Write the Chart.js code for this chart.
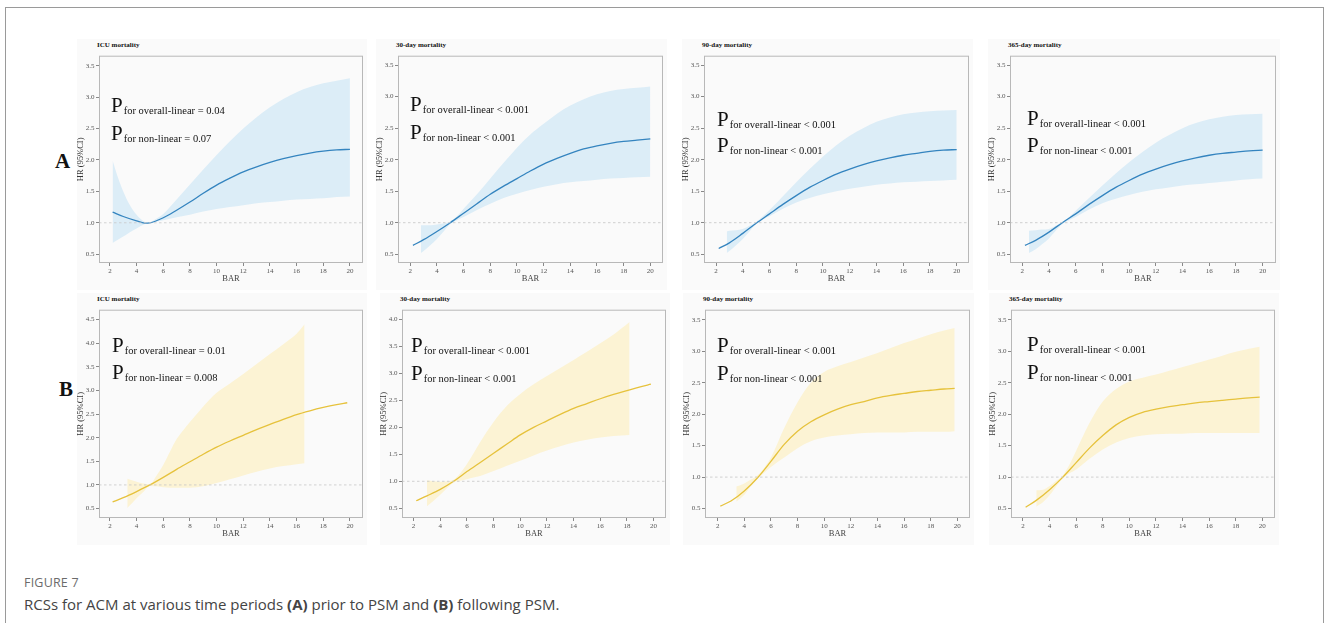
<!DOCTYPE html>
<html>
<head>
<meta charset="utf-8">
<script src="https://cdn.jsdelivr.net/npm/chart.js"></script>
<style>
  body { margin: 0; width: 1328px; height: 623px; position: relative; overflow: hidden; background: #fff; font-family: "Liberation Serif", serif; }
  #frame { position: absolute; left: 5px; top: 7px; width: 1317px; height: 640px; border: 1px solid #9a9a9a; }
  .bg { position: absolute; background: #fafafa; }
  .panel { position: absolute; }
  .ttl { position: absolute; font: bold 7px "Liberation Serif", serif; line-height: 8px; color: #111; white-space: nowrap; }
  .ann { position: absolute; font-size: 21px; line-height: 21px; color: #111; white-space: nowrap; }
  .ann span { font-size: 10.5px; position: relative; top: 2px; margin-left: 1px; }
  .lab { position: absolute; font: bold 21px "Liberation Serif", serif; line-height: 21px; color: #111; }
  #fig { position: absolute; left: 24px; top: 574px; font: 12.5px "Open Sans", sans-serif; color: #6b6b6b; letter-spacing: 0.2px; }
  #cap { position: absolute; left: 24px; top: 594px; font: 15px "Open Sans", sans-serif; color: #444; white-space: nowrap; }
</style>
</head>
<body>
<div id="frame"></div>
<div class="lab" style="left:55px;top:151px">A</div>
<div class="lab" style="left:59px;top:379px">B</div>
<div id="fig">FIGURE 7</div>
<div id="cap">RCSs for ACM at various time periods <b>(A)</b> prior to PSM and <b>(B)</b> following PSM.</div>
<script>
// x ticks (BAR) and y ticks (HR)
const barTicks = [2, 4, 6, 8, 10, 12, 14, 16, 18, 20];
const hrTicks35 = [0.5, 1.0, 1.5, 2.0, 2.5, 3.0, 3.5];
const hrTicks40 = [0.5, 1.0, 1.5, 2.0, 2.5, 3.0, 3.5, 4.0];
const hrTicks45 = [0.5, 1.0, 1.5, 2.0, 2.5, 3.0, 3.5, 4.0, 4.5];
const refHR = 1;

// A: prior to PSM
const icuPreX = [2.2, 3, 4, 4.6, 5, 6, 7, 8, 9, 10, 11, 12, 13, 14, 15, 16, 17, 18, 19, 20];
const icuPreHR = [1.17, 1.1, 1.03, 0.995, 1.0, 1.08, 1.2, 1.33, 1.47, 1.6, 1.71, 1.81, 1.89, 1.96, 2.02, 2.07, 2.11, 2.14, 2.16, 2.17];
const icuPreBandX = [2.2, 2.6, 3, 3.5, 4, 4.5, 4.9, 5.5, 6, 7, 8, 9, 10, 11, 12, 13, 14, 15, 16, 17, 18, 19, 20];
const icuPreLow = [0.68, 0.73, 0.78, 0.85, 0.91, 0.97, 1.0, 1.02, 1.04, 1.09, 1.13, 1.18, 1.22, 1.25, 1.28, 1.31, 1.33, 1.35, 1.37, 1.38, 1.39, 1.41, 1.42];
const icuPreHigh = [1.99, 1.72, 1.5, 1.28, 1.13, 1.03, 1.0, 1.07, 1.14, 1.37, 1.61, 1.85, 2.08, 2.3, 2.5, 2.68, 2.84, 2.97, 3.08, 3.16, 3.22, 3.26, 3.3];

const curveX = [2.2, 3, 4, 5, 6, 7, 8, 9, 10, 11, 12, 13, 14, 15, 16, 17, 18, 19, 20];
const bandX = [3, 3.5, 4, 4.5, 5, 5.5, 6, 7, 8, 9, 10, 11, 12, 13, 14, 15, 16, 17, 18, 19, 20];

const d30PreHR = [0.64, 0.73, 0.86, 1.0, 1.15, 1.3, 1.45, 1.58, 1.7, 1.82, 1.93, 2.02, 2.1, 2.17, 2.22, 2.26, 2.29, 2.31, 2.33];
const d30PreBandX = [2.8].concat(bandX);
const d30PreLow = [0.52, 0.55, 0.64, 0.74, 0.86, 0.98, 1.04, 1.09, 1.2, 1.3, 1.39, 1.46, 1.52, 1.57, 1.61, 1.64, 1.66, 1.68, 1.7, 1.71, 1.72, 1.73];
const d30PreHigh = [0.96, 0.96, 0.96, 0.97, 0.99, 1.02, 1.1, 1.22, 1.45, 1.7, 1.95, 2.19, 2.4, 2.57, 2.73, 2.86, 2.96, 3.04, 3.09, 3.12, 3.14, 3.16];

const d90PreHR = [0.59, 0.68, 0.83, 0.99, 1.14, 1.29, 1.43, 1.56, 1.67, 1.77, 1.85, 1.92, 1.98, 2.03, 2.07, 2.1, 2.13, 2.15, 2.16];
const d90PreBandX = [2.8].concat(bandX);
const d90PreLow = [0.52, 0.55, 0.64, 0.74, 0.86, 0.98, 1.05, 1.1, 1.22, 1.32, 1.39, 1.45, 1.5, 1.54, 1.57, 1.6, 1.62, 1.64, 1.65, 1.66, 1.67, 1.68];
const d90PreHigh = [0.86, 0.87, 0.88, 0.9, 0.95, 1.01, 1.1, 1.2, 1.42, 1.64, 1.85, 2.05, 2.23, 2.38, 2.5, 2.6, 2.67, 2.72, 2.75, 2.77, 2.78, 2.79];

const d365PreHR = [0.64, 0.72, 0.85, 1.0, 1.14, 1.29, 1.43, 1.56, 1.67, 1.77, 1.85, 1.92, 1.98, 2.03, 2.07, 2.1, 2.12, 2.14, 2.15];
const d365PreBandX = [2.5].concat(bandX);
const d365PreLow = [0.52, 0.58, 0.66, 0.75, 0.87, 0.98, 1.04, 1.09, 1.21, 1.31, 1.38, 1.44, 1.49, 1.53, 1.56, 1.59, 1.61, 1.63, 1.65, 1.67, 1.69, 1.7];
const d365PreHigh = [0.87, 0.88, 0.89, 0.9, 0.95, 1.01, 1.09, 1.19, 1.39, 1.59, 1.78, 1.96, 2.12, 2.27, 2.39, 2.5, 2.58, 2.64, 2.68, 2.71, 2.72, 2.73];

// B: following PSM
const curveXB = [2.2, 3, 4, 5, 6, 7, 8, 9, 10, 11, 12, 13, 14, 15, 16, 17, 18, 19, 19.8];

const icuPostHR = [0.64, 0.73, 0.86, 1.0, 1.16, 1.33, 1.49, 1.65, 1.8, 1.93, 2.05, 2.17, 2.28, 2.39, 2.49, 2.57, 2.64, 2.7, 2.74];
const icuPostBandX = [3.3, 4, 4.5, 5, 5.5, 6, 6.5, 7, 7.5, 8, 9, 10, 11, 12, 13, 14, 15, 16, 16.6];
const icuPostLow = [0.51, 0.72, 0.85, 0.98, 0.97, 0.95, 0.94, 0.94, 0.94, 0.94, 0.97, 1.04, 1.12, 1.2, 1.28, 1.35, 1.4, 1.44, 1.46];
const icuPostHigh = [1.13, 1.07, 1.03, 1.02, 1.2, 1.42, 1.7, 1.97, 2.16, 2.33, 2.66, 2.95, 3.15, 3.35, 3.56, 3.77, 3.98, 4.2, 4.4];

const d30PostHR = [0.64, 0.73, 0.85, 1.0, 1.18, 1.35, 1.52, 1.69, 1.86, 2.0, 2.12, 2.24, 2.35, 2.44, 2.53, 2.61, 2.68, 2.75, 2.8];
const d30PostBandX = [3, 3.5, 4, 4.5, 5, 5.5, 6, 6.5, 7, 8, 9, 10, 11, 12, 13, 14, 15, 16, 17, 18.2];
const d30PostLow = [0.54, 0.64, 0.75, 0.87, 0.98, 1.01, 1.04, 1.07, 1.1, 1.19, 1.29, 1.38, 1.48, 1.57, 1.65, 1.72, 1.77, 1.81, 1.84, 1.86];
const d30PostHigh = [1.02, 1.0, 0.99, 1.0, 1.03, 1.15, 1.32, 1.52, 1.73, 2.1, 2.4, 2.62, 2.8, 2.95, 3.1, 3.25, 3.4, 3.56, 3.72, 3.95];

const d90PostHR = [0.54, 0.62, 0.78, 0.99, 1.25, 1.52, 1.73, 1.88, 1.99, 2.08, 2.15, 2.2, 2.26, 2.3, 2.33, 2.36, 2.38, 2.4, 2.41];
const d90PostBandX = [3.4, 4, 4.5, 5, 5.5, 6, 7, 8, 9, 10, 11, 12, 13, 14, 15, 16, 17, 18, 19, 19.8];
const d90PostLow = [0.61, 0.72, 0.86, 0.98, 1.07, 1.16, 1.31, 1.46, 1.57, 1.63, 1.66, 1.68, 1.7, 1.71, 1.71, 1.71, 1.72, 1.72, 1.72, 1.73];
const d90PostHigh = [0.85, 0.9, 0.96, 1.03, 1.15, 1.31, 1.78, 2.19, 2.5, 2.67, 2.76, 2.83, 2.9, 2.97, 3.05, 3.13, 3.2, 3.27, 3.33, 3.37];

const d365PostHR = [0.52, 0.63, 0.8, 1.0, 1.23, 1.46, 1.66, 1.83, 1.95, 2.03, 2.08, 2.12, 2.15, 2.18, 2.2, 2.22, 2.24, 2.26, 2.27];
const d365PostBandX = [3, 3.5, 4, 4.5, 5, 5.5, 6, 7, 8, 9, 10, 11, 12, 13, 14, 15, 16, 17, 18, 19, 19.8];
const d365PostLow = [0.53, 0.6, 0.71, 0.85, 0.98, 1.06, 1.12, 1.29, 1.44, 1.55, 1.62, 1.66, 1.68, 1.69, 1.69, 1.7, 1.7, 1.7, 1.7, 1.7, 1.7];
const d365PostHigh = [0.79, 0.8, 0.86, 0.94, 1.03, 1.2, 1.42, 1.86, 2.2, 2.4, 2.52, 2.58, 2.63, 2.69, 2.75, 2.81, 2.87, 2.93, 2.99, 3.04, 3.07];

const blue = { line: '#3484bf', band: '#dcedf7' };
const yellow = { line: '#e6c23c', band: '#fcf3d4' };

// box = plot area [left, top, right, bottom] in page px; ann = [x, baseline1, baseline2]
const panels = [
  { title: 'ICU mortality', box: [99, 52, 363, 263], xr: [1.18, 20.98], yr: [0.36, 3.66], yt: hrTicks35, col: blue,
    cx: icuPreX, hr: icuPreHR, bx: icuPreBandX, lo: icuPreLow, hi: icuPreHigh,
    p1: 'for overall-linear = 0.04', p2: 'for non-linear = 0.07', ann: [111, 113, 141] },
  { title: '30-day mortality', box: [398, 52, 663, 263], xr: [1.08, 20.95], yr: [0.36, 3.65], yt: hrTicks35, col: blue,
    cx: curveX, hr: d30PreHR, bx: d30PreBandX, lo: d30PreLow, hi: d30PreHigh,
    p1: 'for overall-linear < 0.001', p2: 'for non-linear < 0.001', ann: [410, 112, 140] },
  { title: '90-day mortality', box: [704, 52, 969, 263], xr: [1.1, 20.92], yr: [0.36, 3.65], yt: hrTicks35, col: blue,
    cx: curveX, hr: d90PreHR, bx: d90PreBandX, lo: d90PreLow, hi: d90PreHigh,
    p1: 'for overall-linear < 0.001', p2: 'for non-linear < 0.001', ann: [717, 127, 153] },
  { title: '365-day mortality', box: [1010, 52, 1276, 263], xr: [1.08, 21.0], yr: [0.36, 3.65], yt: hrTicks35, col: blue,
    cx: curveX, hr: d365PreHR, bx: d365PreBandX, lo: d365PreLow, hi: d365PreHigh,
    p1: 'for overall-linear < 0.001', p2: 'for non-linear < 0.001', ann: [1027, 126, 153] },
  { title: 'ICU mortality', box: [99, 306, 363, 518], xr: [1.18, 20.98], yr: [0.3, 4.71], yt: hrTicks45, col: yellow,
    cx: curveXB, hr: icuPostHR, bx: icuPostBandX, lo: icuPostLow, hi: icuPostHigh,
    p1: 'for overall-linear = 0.01', p2: 'for non-linear = 0.008', ann: [112, 353, 380] },
  { title: '30-day mortality', box: [402, 306, 666, 518], xr: [1.13, 20.93], yr: [0.32, 4.18], yt: hrTicks40, col: yellow,
    cx: curveXB, hr: d30PostHR, bx: d30PostBandX, lo: d30PostLow, hi: d30PostHigh,
    p1: 'for overall-linear < 0.001', p2: 'for non-linear < 0.001', ann: [411, 353, 381] },
  { title: '90-day mortality', box: [705, 306, 970, 518], xr: [1.05, 20.95], yr: [0.35, 3.66], yt: hrTicks35, col: yellow,
    cx: curveXB, hr: d90PostHR, bx: d90PostBandX, lo: d90PostLow, hi: d90PostHigh,
    p1: 'for overall-linear < 0.001', p2: 'for non-linear < 0.001', ann: [717, 353, 381] },
  { title: '365-day mortality', box: [1011, 306, 1275, 518], xr: [1.1, 20.95], yr: [0.35, 3.66], yt: hrTicks35, col: yellow,
    cx: curveXB, hr: d365PostHR, bx: d365PostBandX, lo: d365PostLow, hi: d365PostHigh,
    p1: 'for overall-linear < 0.001', p2: 'for non-linear < 0.001', ann: [1027, 352, 380] },
];

const padL = 25, padR = 4, padT = 2, padB = 22;

// box round the plot area and dashed HR = 1 line
const boxPlugin = {
  id: 'boxPlugin',
  afterDatasetsDraw(chart) {
    const { ctx, chartArea: a, scales } = chart;
    const y = scales.y.getPixelForValue(refHR);
    ctx.save();
    ctx.strokeStyle = '#c6c6c6';
    ctx.lineWidth = 0.8;
    ctx.setLineDash([2.5, 2.5]);
    ctx.beginPath();
    ctx.moveTo(a.left, y);
    ctx.lineTo(a.right, y);
    ctx.stroke();
    ctx.setLineDash([]);
    ctx.strokeStyle = '#b8b8b8';
    ctx.lineWidth = 1;
    ctx.strokeRect(a.left + 0.5, a.top + 0.5, a.right - a.left - 1, a.bottom - a.top - 1);
    ctx.restore();
  }
};

function pts(xs, ys) {
  return xs.map((x, i) => ({ x: x, y: ys[i] }));
}

function addDiv(cls, css, html) {
  const d = document.createElement('div');
  d.className = cls;
  d.style.cssText = css;
  d.innerHTML = html;
  document.body.appendChild(d);
  return d;
}

const tickFont = { family: 'Liberation Serif', size: 7 };
const axisFont = { family: 'Liberation Serif', size: 8.5 };

panels.forEach((p, i) => {
  const [l, t, r, b] = p.box;
  addDiv('bg', `left:${l - 22}px;top:${t - 13}px;width:${r - l + 26}px;height:${b - t + 40}px`, '');
  addDiv('ttl', `left:${l - 2}px;top:${t - 11}px`, p.title);
  const wrap = addDiv('panel', `left:${l - padL}px;top:${t - padT}px;width:${r - l + padL + padR}px;height:${b - t + padT + padB}px`, '');
  const cv = document.createElement('canvas');
  wrap.appendChild(cv);
  addDiv('ann', `left:${p.ann[0]}px;top:${p.ann[1] - 17.6}px`, `P<span>${p.p1}</span>`);
  addDiv('ann', `left:${p.ann[0]}px;top:${p.ann[2] - 17.6}px`, `P<span>${p.p2}</span>`);

  new Chart(cv, {
    type: 'line',
    data: {
      datasets: [
        { data: pts(p.cx, p.hr), borderColor: p.col.line, borderWidth: 1.3, pointRadius: 0, fill: false, cubicInterpolationMode: 'monotone' },
        { data: pts(p.bx, p.hi), borderWidth: 0, pointRadius: 0, backgroundColor: p.col.band, fill: '+1', cubicInterpolationMode: 'monotone' },
        { data: pts(p.bx, p.lo), borderWidth: 0, pointRadius: 0, fill: false, cubicInterpolationMode: 'monotone' },
      ]
    },
    options: {
      responsive: true,
      maintainAspectRatio: false,
      animation: false,
      layout: { padding: { top: padT, right: padR, left: 0, bottom: 0 } },
      plugins: { legend: { display: false }, tooltip: { enabled: false } },
      scales: {
        x: {
          type: 'linear', min: p.xr[0], max: p.xr[1],
          afterBuildTicks: s => { s.ticks = barTicks.map(v => ({ value: v })); },
          afterFit: s => { s.height = padB; },
          ticks: { font: tickFont, color: '#555', padding: 1, maxRotation: 0, autoSkip: false },
          grid: { display: true, drawOnChartArea: false, drawTicks: true, tickLength: 3, color: '#888' },
          border: { display: false },
          title: { display: true, text: 'BAR', font: axisFont, color: '#444', padding: { top: 0, bottom: 1 } }
        },
        y: {
          type: 'linear', min: p.yr[0], max: p.yr[1],
          afterBuildTicks: s => { s.ticks = p.yt.map(v => ({ value: v })); },
          afterFit: s => { s.width = padL; },
          ticks: { font: tickFont, color: '#555', padding: 1.5, callback: v => v.toFixed(1), autoSkip: false },
          grid: { display: true, drawOnChartArea: false, drawTicks: true, tickLength: 3, color: '#888' },
          border: { display: false },
          title: { display: true, text: 'HR (95%CI)', font: axisFont, color: '#333', padding: { top: 2, bottom: 0 } }
        }
      }
    },
    plugins: [boxPlugin]
  });
});
</script>
</body>
</html>
